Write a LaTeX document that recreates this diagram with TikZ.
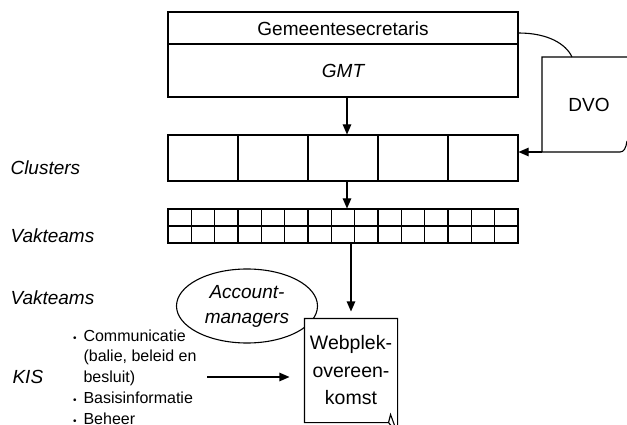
\documentclass[tikz,border=0pt]{standalone}
\usepackage{fontspec}
\setmainfont{Liberation Sans}
\usetikzlibrary{arrows.meta}
\usetikzlibrary{shapes.geometric}

\newcommand{\listdot}{{\fontsize{10}{10}\selectfont\textbullet}}

\tikzset{
  arr/.style={-{Triangle[length=10pt,width=8.5pt]}},
  bigtext/.style={font=\fontsize{19}{24}\selectfont},
  sidelabel/.style={anchor=west, inner sep=0pt, font=\fontsize{19}{24}\selectfont\itshape},
  row/.style={draw, minimum width=350pt, inner sep=0pt}
}

\begin{document}
\begin{tikzpicture}[x=1pt, y=-1pt, line width=1.1pt]
      \def\colw{70}
      \def\cellw{23.3333}
      \useasboundingbox (0,0) rectangle (627,425);

      % top box
      \node[row, minimum height=85pt] (top) at (343,54.5) {};
      \draw (top.west |- 0,44) -- (top.east |- 0,44);
      \node[bigtext] (secretaris) at (343,29) {Gemeentesecretaris};
      \node[font=\fontsize{19}{24}\selectfont\itshape] (gmt) at (343,71) {GMT};

      % clusters and vakteams
      \node[row, minimum height=46pt] (clusters) at (343,158) {};
      \foreach \i in {1,...,4}
        \draw (168+\i*\colw,135) -- (168+\i*\colw,181);
      \node[row, minimum height=34pt] (vakteams) at (343,226) {};
      \draw (vakteams.west) -- (vakteams.east);
      \foreach \i in {1,...,14}
        \draw (168+\i*\cellw,209) -- (168+\i*\cellw,243);

      \draw[arr] ([xshift=4pt]top.south) -- ([xshift=4pt]clusters.north);
      \draw[arr] ([xshift=4pt]clusters.south) -- ([xshift=4pt]vakteams.north);

      % DVO
      \draw (top.east |- 0,33) .. controls (548,33) and (566,44) .. (572,57);
      \draw (627,57) -- (542,57) -- (542,152) -- (620,152) .. controls (624,152) and (626,148) .. (627,141);
      \node[bigtext] (dvo) at (589,105) {DVO};
      \coordinate (dvocorner) at (542,152);
      \draw[arr] (dvocorner) -- (clusters.east |- dvocorner);

      % left labels
      \node[sidelabel] (lclusters) at (10,168) {Clusters};
      \node[sidelabel] (lvakteams) at (10,236) {Vakteams};
      \node[sidelabel] (lvakteamstwo) at (10,298) {Vakteams};
      \node[sidelabel] (kis) at (12,377) {KIS};

      % account managers and agreement
      \node[draw, ellipse, minimum width=141pt, minimum height=74pt, inner sep=0pt, align=center,
            font=\fontsize{19}{25}\selectfont\itshape] (account) at (247,306) {Account-\\managers};
      \node[fill=white, minimum width=92pt, minimum height=103pt, inner sep=0pt, align=center,
            font=\fontsize{19.5}{27.5}\selectfont] (webplek) at (351,370.5) {Webplek-\\overeen-\\komst};
      \draw (webplek.south west) -- (webplek.north west) -- (webplek.north east)
            -- ([yshift=-11pt]webplek.south east) -- ([xshift=-9pt]webplek.south east) -- cycle;
      \draw ([xshift=-9pt]webplek.south east) -- ([xshift=-7pt,yshift=8pt]webplek.south east)
            -- ([yshift=-11pt]webplek.south east);
      \draw[arr, shorten >=7pt] (vakteams.south -| webplek.north) -- (webplek.north);

      \node[anchor=west, align=left, inner sep=0pt, font=\fontsize{16}{20.75}\selectfont] (kislist) at (83,377)
        {\llap{\listdot\hspace{7pt}}Communicatie\\(balie, beleid en\\besluit)\\
         \llap{\listdot\hspace{7pt}}Basisinformatie\\\llap{\listdot\hspace{7pt}}Beheer};
      \draw[arr, shorten <=10pt, shorten >=15pt] (kislist.east) -- (kislist.east -| webplek.west);

    \end{tikzpicture}
\end{document}
